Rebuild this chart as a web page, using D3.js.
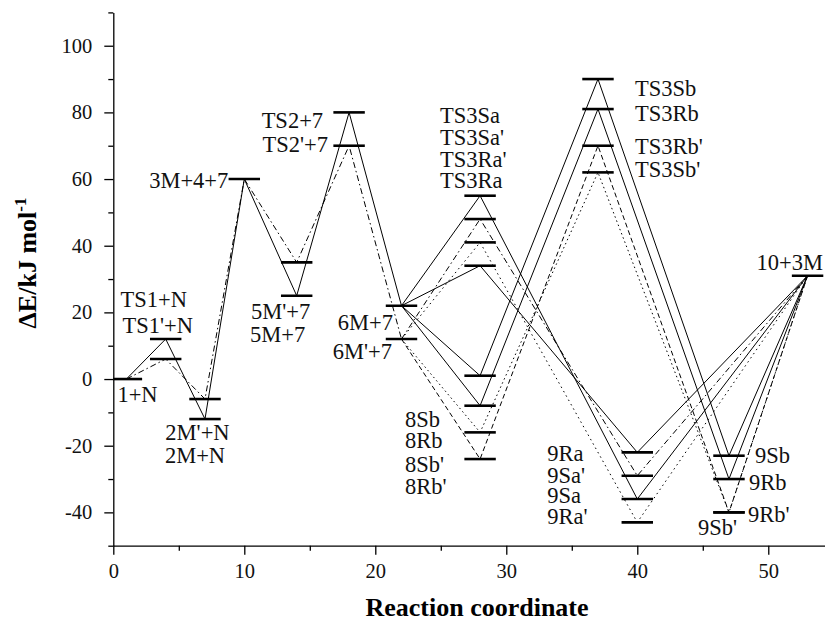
<!DOCTYPE html>
<html><head><meta charset="utf-8">
<script src="https://cdn.jsdelivr.net/npm/d3@7"></script>
<style>
html,body{margin:0;padding:0;background:#fff;}
svg{display:block;}
svg text{font-family:"Liberation Serif","DejaVu Serif","Tinos","Noto Serif","Times New Roman",Times,serif !important;}
</style></head><body>
<svg id="chart" width="825" height="624"></svg>
<script>
// ---- data ----
const levelNames = ["1+N","TS1+N","TS1'+N","2M'+N","2M+N","3M+4+7","5M'+7","5M+7","TS2+7","TS2'+7","6M+7","6M'+7",
  "TS3Sa","TS3Sa'","TS3Ra'","TS3Ra","8Sb","8Rb","8Sb'","8Rb'","TS3Sb","TS3Rb","TS3Rb'","TS3Sb'",
  "9Ra","9Sa'","9Sa","9Ra'","9Sb","9Rb","9Rb'","9Sb'","10+3M"];
const levelX = [1,4,4,7,7,10,14,14,18,18,22,22, 28,28,28,28, 28,28,28,28, 37,37,37,37, 40,40,40,40, 47,47,47,47, 53];
const levelE = [0,12,6,-6,-12,60,35,25,80,70,22,12, 55,48,41,34, 1,-8,-16,-24, 90,81,70,62, -22,-29,-36,-43, -23,-30,-40,-40, 31];

const trunk      = ["1+N","TS1+N","2M+N","3M+4+7","5M+7","TS2+7","6M+7"];
const trunkPrime = ["1+N","TS1'+N","2M'+N","3M+4+7","5M'+7","TS2'+7","6M'+7"];
const pathSa  = ["6M+7","TS3Sa","9Sa","10+3M"];
const pathRa  = ["6M+7","TS3Ra","9Ra","10+3M"];
const pathSb  = ["6M+7","8Sb","TS3Sb","9Sb","10+3M"];
const pathRb  = ["6M+7","8Rb","TS3Rb","9Rb","10+3M"];
const pathSaP = ["6M'+7","TS3Sa'","9Sa'","10+3M"];
const pathRaP = ["6M'+7","TS3Ra'","9Ra'","10+3M"];
const pathSbP = ["6M'+7","8Sb'","TS3Sb'","9Sb'","10+3M"];
const pathRbP = ["6M'+7","8Rb'","TS3Rb'","9Rb'","10+3M"];

const xTicks = [0,10,20,30,40,50];
const xMinor = [5,15,25,35,45];
const yTicks = [-40,-20,0,20,40,60,80,100];
const yMinor = [-50,-30,-10,10,30,50,70,90,110];

// ---- layout / styles ----
const FONT = '"Liberation Serif","DejaVu Serif","Tinos","Noto Serif","Times New Roman",Times,serif';
const svg = d3.select("#chart");
const x = d3.scaleLinear().domain([0, 54.33]).range([113.3, 825]);
const y = d3.scaleLinear().domain([-50, 110]).range([545.7, 12.4]);

const lv = {};
levelNames.forEach((n,i)=>{ lv[n] = {x: levelX[i], e: levelE[i]}; });

const lineGen = d3.line().x(n=>x(lv[n].x)).y(n=>y(lv[n].e));
const routes = [
  {p: trunk, dash: null},
  {p: trunkPrime, dash: "6,3,1.5,3"},
  {p: pathSa, dash: null},
  {p: pathRa, dash: null},
  {p: pathSb, dash: null},
  {p: pathRb, dash: null},
  {p: pathSaP, dash: "6,3,1.5,3"},
  {p: pathRaP, dash: "1.5,3.5"},
  {p: pathSbP, dash: "1.5,3"},
  {p: pathRbP, dash: "5,3"}
];
svg.append("g").selectAll("path").data(routes).join("path")
  .attr("d", r=>lineGen(r.p))
  .attr("fill","none").attr("stroke","#000").attr("stroke-width",1)
  .attr("stroke-dasharray", r=>r.dash);

// level bars
const half = 1.2;
svg.append("g").selectAll("line").data(levelNames).join("line")
  .attr("x1", n=>Math.max(x(0), x(lv[n].x-half)))
  .attr("x2", n=>x(lv[n].x+half))
  .attr("y1", n=>y(lv[n].e)).attr("y2", n=>y(lv[n].e))
  .attr("stroke","#000").attr("stroke-width",2.6);

// labels
const labelLayout = {
  "1+N":["start",-9,23], "TS1+N":["middle",-12,-32], "TS1'+N":["middle",-8,-26],
  "2M'+N":["middle",-7.5,41], "2M+N":["middle",-10,44], "3M+4+7":["end",-16,9],
  "TS2+7":["end",-26,16], "TS2'+7":["end",-21,6], "5M'+7":["middle",-16,57], "5M+7":["middle",-19,46],
  "6M+7":["end",-8.5,24], "6M'+7":["end",-9.5,20],
  "TS3Sa":["start",-40,-73], "TS3Sa'":["start",-40,-74], "TS3Ra'":["start",-40,-75], "TS3Ra":["start",-40,-78],
  "8Sb":["start",-75,51], "8Rb":["start",-75,42], "8Sb'":["start",-75,40], "8Rb'":["start",-75,35],
  "TS3Sb":["start",37,17], "TS3Rb":["start",37,12], "TS3Rb'":["start",37,8], "TS3Sb'":["start",37,5],
  "9Ra":["start",-90,9], "9Sa'":["start",-90,7], "9Sa":["start",-90,4], "9Ra'":["start",-90,2],
  "9Sb":["start",26,7], "9Rb":["start",20,11], "9Rb'":["start",19,10], "9Sb'":["start",-31,23],
  "10+3M":["start",-51,-6]
};
svg.append("g").selectAll("text").data(levelNames).join("text")
  .attr("x", n=>x(lv[n].x)+labelLayout[n][1])
  .attr("y", n=>y(lv[n].e)+labelLayout[n][2])
  .attr("text-anchor", n=>labelLayout[n][0])
  .attr("font-family", FONT)
  .attr("font-size", "22.5px").attr("fill","#111")
  .text(n=>n);

// axes
const fmt = d => String(d);
svg.append("g").attr("transform",`translate(0,${y(-50)})`)
  .call(d3.axisBottom(x).tickValues(xTicks).tickSize(9).tickSizeOuter(0).tickPadding(9).tickFormat(fmt));
const axXm = svg.append("g").attr("transform",`translate(0,${y(-50)})`)
  .call(d3.axisBottom(x).tickValues(xMinor).tickSize(5).tickSizeOuter(0).tickFormat(""));
axXm.select(".domain").remove();
svg.append("g").attr("transform",`translate(${x(0)},0)`)
  .call(d3.axisLeft(y).tickValues(yTicks).tickSize(9).tickSizeOuter(0).tickPadding(12).tickFormat(fmt));
const axYm = svg.append("g").attr("transform",`translate(${x(0)},0)`)
  .call(d3.axisLeft(y).tickValues(yMinor).tickSize(5).tickSizeOuter(0).tickFormat(""));
axYm.select(".domain").remove();
svg.selectAll(".domain, .tick line").attr("stroke","#000").attr("stroke-width",1.3);
svg.selectAll("g").attr("font-family", FONT);
svg.selectAll(".tick text").attr("font-family", FONT)
  .attr("font-size","20.5px").attr("fill","#111");

// titles
svg.append("text").attr("x",477).attr("y",616).attr("text-anchor","middle")
  .attr("font-family", FONT)
  .attr("font-size","26px").attr("font-weight","bold").text("Reaction coordinate");
const yt = svg.append("text").attr("transform","translate(36,263) rotate(-90)")
  .attr("font-family", FONT)
  .attr("text-anchor","middle").attr("font-size","26px").attr("font-weight","bold");
yt.append("tspan").text("ΔE/kJ mol");
yt.append("tspan").attr("font-size","17px").attr("dy","-10").text("-1");
</script>
</body></html>
